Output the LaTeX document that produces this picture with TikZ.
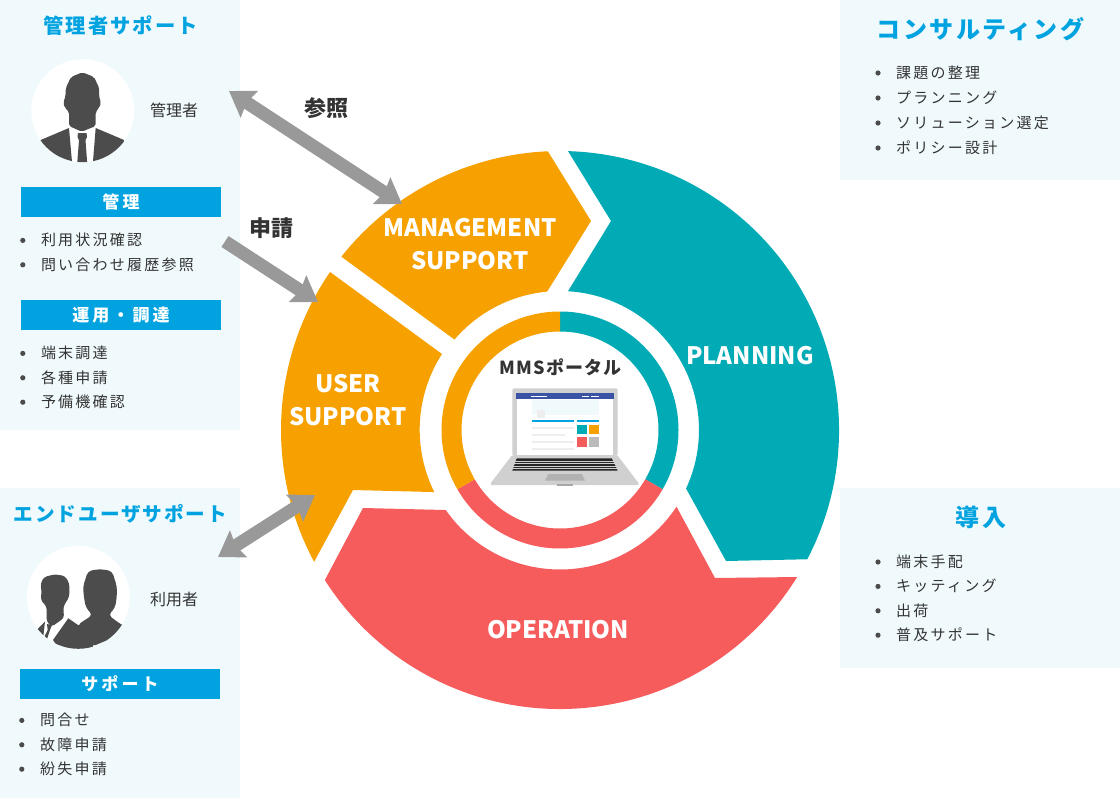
\documentclass[tikz,border=0pt]{standalone}
\usepackage{fontspec}
\usepackage{xcolor}
\usetikzlibrary{arrows.meta, positioning}
\setmainfont{Noto Sans CJK JP}
\newfontfamily\itemfont[LetterSpace=15]{Noto Sans CJK JP}
\newfontfamily\headfont[LetterSpace=10]{Noto Sans CJK JP}
\newfontfamily\barfont[LetterSpace=18]{Noto Sans CJK JP}
\newfontfamily\portalfont[LetterSpace=7]{Noto Sans CJK JP}
\definecolor{panelblue}{RGB}{240, 250, 253}
\definecolor{accentblue}{RGB}{0, 163, 224}
\definecolor{segteal}{RGB}{0, 171, 181}
\definecolor{segorange}{RGB}{246, 161, 0}
\definecolor{segred}{RGB}{247, 92, 93}
\definecolor{arrowgray}{RGB}{153, 153, 153}
\definecolor{figgray}{RGB}{76, 76, 76}
\definecolor{textdark}{RGB}{51, 51, 51}
\definecolor{lidgray}{RGB}{208, 208, 208}
\definecolor{linegray}{RGB}{238, 238, 238}
\definecolor{barnavy}{RGB}{58, 83, 164}
\tikzset{
    paneltitle/.style={text=accentblue, font=\fontsize{20.3}{24}\selectfont\headfont\bfseries, inner sep=0pt},
    barbox/.style={fill=accentblue, text=white, minimum width=200pt, minimum height=30pt, inner sep=0pt, font=\fontsize{17}{20}\selectfont\barfont\bfseries},
    listitem/.style={text=textdark, text width=160pt, text height=13pt, text depth=2pt, inner xsep=0pt, inner ysep=4.5pt, align=left, font=\fontsize{15}{18}\selectfont\itemfont},
    personlabel/.style={text=textdark, inner sep=0pt, font=\fontsize{16}{20}\selectfont},
    flowlabel/.style={text=textdark, inner sep=0pt, font=\fontsize{22}{26}\selectfont\bfseries},
    seglabel/.style={text=white, inner sep=0pt, align=center, font=\fontsize{24}{33}\selectfont\bfseries},
    flowarrow/.style={arrowgray, line width=13pt, -{Stealth[length=24pt, width=31pt, inset=3pt]}},
    twoarrow/.style={arrowgray, line width=13pt, {Stealth[length=24pt, width=31pt, inset=3pt]}-{Stealth[length=24pt, width=31pt, inset=3pt]}},
}

\begin{document}
\begin{tikzpicture}[x=1pt, y=-1pt]
    \useasboundingbox (0,0) rectangle (1120,798);

    % panels
    \fill[panelblue] (0,0) rectangle (240,430);
    \fill[panelblue] (0,488) rectangle (240,798);
    \fill[panelblue] (840,0) rectangle (1120,180);
    \fill[panelblue] (840,488) rectangle (1120,668);

    % cycle
    \begin{scope}[shift={(560,430)}]
        \fill[segteal] (-88.35:279) -- (51,-209) -- (-86.7:139) arc[start angle=-86.7, end angle=24.9, radius=139]
            -- (166,131) -- (27.6:279) arc[start angle=27.6, end angle=-88.35, radius=279] -- cycle;
        \fill[segorange] (-92.5:279) -- (31,-209) -- (-95.3:139) arc[start angle=-95.3, end angle=-139.4, radius=139]
            -- (-141.6:279) arc[start angle=-141.6, end angle=-92.5, radius=279] -- cycle;
        \fill[segorange] (-145.5:279) -- (-118,-76) arc[start angle=212.8, end angle=153.6, radius=140]
            -- (-207,60) -- (151.8:279) arc[start angle=151.8, end angle=214.5, radius=279] -- cycle;
        \fill[segred] (147.45:279) -- (-197,78) -- (145:139.5) arc[start angle=145, end angle=33.35, radius=139.5]
            -- (155,148) -- (31.8:279) arc[start angle=31.8, end angle=147.45, radius=279] -- cycle;
        % inner ring
        \fill[segteal] (-90:118.5) arc[start angle=-90, end angle=30, radius=118.5] -- (30:98.5) arc[start angle=30, end angle=-90, radius=98.5] -- cycle;
        \fill[segred] (30:118.5) arc[start angle=30, end angle=150, radius=118.5] -- (150:98.5) arc[start angle=150, end angle=30, radius=98.5] -- cycle;
        \fill[segorange] (150:118.5) arc[start angle=150, end angle=270, radius=118.5] -- (270:98.5) arc[start angle=270, end angle=150, radius=98.5] -- cycle;
    \end{scope}

    \node[seglabel] (planning) at (750,356) {PLANNING};
    \node[seglabel] (mgmt) at (470,244.5) {MANAGEMENT\\SUPPORT};
    \node[seglabel] (user) at (348,400.5) {USER\\SUPPORT};
    \node[seglabel] (operation) at (558,630) {OPERATION};
    \node[text=textdark, inner sep=0pt, font=\fontsize{18}{22}\selectfont\portalfont\bfseries] (portal) at (560.5,367) {MMSポータル};

    % laptop
    \fill[lidgray, rounded corners=2pt] (512.3,388.3) rectangle (617.7,456);
    \fill[white] (516.7,393) rectangle (613.3,455);
    \fill[barnavy] (516,393.3) rectangle (613.5,399.3);
    \fill[white] (531,395.8) rectangle (547,396.8);
    \fill[white] (582,395.8) rectangle (589,396.8);
    \fill[white] (591,395.8) rectangle (599,396.8);
    \fill[panelblue] (531.7,400) rectangle (599,415);
    \fill[linegray] (537.3,410) rectangle (545,418.3);
    \fill[accentblue] (531.7,420) rectangle (574,421.5);
    \fill[accentblue] (576.7,420) rectangle (599,421.5);
    \foreach \y/\xend in {427/574, 434/565, 441/574, 448.3/574}
        \fill[linegray] (531.7,\y) rectangle (\xend,\y+1.6);
    \fill[segteal] (577,424.7) rectangle (586.7,434);
    \fill[segorange] (589.3,424.7) rectangle (599,434);
    \fill[segred] (577,437.3) rectangle (586.7,446.7);
    \fill[lidgray!90!black] (589.3,437.3) rectangle (599,446.7);
    \fill[lidgray] (511.7,455.7) -- (617.7,455.7) -- (638.3,482.7) -- (638.3,485) -- (491,485) -- (491,482.7) -- cycle;
    \fill[figgray!50!black] (516.7,458.3) -- (611.7,458.3) -- (617.7,470.7) -- (512.3,470.7) -- cycle;
    \foreach \y in {461, 463.5, 466, 468.5}
        \draw[lidgray, line width=0.3pt] (512,\y) -- (618,\y);
    \fill[lidgray!85!black] (548.3,474) -- (581.7,474) -- (585,480.7) -- (545,480.7) -- cycle;
    \fill[lidgray!80!black] (556.7,483.5) rectangle (573.3,485.5);

    % administrator
    \fill[white] (82.7,110.7) circle (51.5);
    \begin{scope}
        \clip (82.7,110.7) circle (51.5);
        \fill[figgray, rounded corners=2pt] (82.3,72.3) -- (71,77) -- (65.7,88.3) -- (65.5,96) -- (63.3,103) -- (65,108) -- (69,111.7) -- (69,126)
            -- (81.7,131.7) -- (95.7,126) -- (95.7,111.7) -- (99,108) -- (101,103) -- (99,96) -- (99.3,88.3) -- (94,77) -- cycle;
        \fill[figgray] (69,128) -- (40.7,140) -- (40,170) -- (72.7,170) -- cycle;
        \fill[figgray] (95.7,128) -- (124,140) -- (125,170) -- (92.3,170) -- cycle;
        \fill[figgray] (78,133) -- (86.5,133) -- (87,137) -- (85.5,140) -- (87.7,170) -- (76.7,170) -- (79,140) -- (77.5,137) -- cycle;
    \end{scope}

    % end users
    \fill[white] (78.3,597.3) circle (51.5);
    \begin{scope}
        \clip (78.3,597.3) circle (51.5);
        \fill[figgray, rounded corners=3pt] (55,574.3) -- (44,577) -- (40.7,583.3) -- (41.5,593) -- (40.7,600) -- (46.7,606.7) -- (46.7,621.7) -- (51.7,626.7)
            -- (64,618) -- (63.3,606.7) -- (69.3,596.7) -- (69.3,583.3) -- (65,576) -- cycle;
        \fill[figgray] (68.3,618.3) -- (53,640) -- (60,650) -- (91.7,650) -- (100,625) -- (78,625) -- cycle;
        \fill[figgray] (36.7,630) -- (45,621.7) -- (43.3,636.7) -- cycle;
        \fill[figgray] (47,624) -- (52,625) -- (50,630) -- (47,639) -- (44.7,636) -- (47.7,630) -- cycle;
        \fill[figgray, rounded corners=4pt] (100,569) -- (88,571) -- (83,586.7) -- (84,598) -- (86,608) -- (92.7,615) -- (77.3,625) -- (91.7,646.7)
            -- (110,639) -- (135,630) -- (121.7,625) -- (108.3,615) -- (115,608) -- (116.7,598) -- (117,586.7) -- (112,571) -- cycle;
    \end{scope}

    % admin panel
    \node[paneltitle] (admintitle) at (120.5,26) {管理者サポート};
    \node[personlabel] (adminlabel) at (174,110) {管理者};
    \node[barbox] (mgmtbar) at (121,202) {管理};
    \node[listitem, below=11pt of mgmtbar] (mgmta) {利用状況確認};
    \node[listitem, below=0pt of mgmta] (mgmtb) {問い合わせ履歴参照};
    \node[barbox] (opsbar) at (121,315) {運用・調達};
    \node[listitem, below=11pt of opsbar] (opsa) {端末調達};
    \node[listitem, below=0pt of opsa] (opsb) {各種申請};
    \node[listitem, below=0pt of opsb] (opsc) {予備機確認};

    % end user panel
    \node[paneltitle, font=\fontsize{19.6}{24}\selectfont\headfont\bfseries] (usertitle) at (120.5,513.5) {エンドユーザサポート};
    \node[personlabel] (userlabel) at (174,599) {利用者};
    \node[barbox] (supbar) at (120,684) {サポート};
    \node[listitem, below=9pt of supbar] (supa) {問合せ};
    \node[listitem, below=0pt of supa] (supb) {故障申請};
    \node[listitem, below=0pt of supb] (supc) {紛失申請};

    % right panels
    \node[paneltitle, font=\fontsize{24}{28}\selectfont\headfont\bfseries] (constitle) at (980.5,29) {コンサルティング};
    \node[listitem, inner ysep=4.8pt, anchor=west] (consa) at (896,73) {課題の整理};
    \node[listitem, inner ysep=4.8pt, below=0pt of consa] (consb) {プランニング};
    \node[listitem, inner ysep=4.8pt, below=0pt of consb] (consc) {ソリューション選定};
    \node[listitem, inner ysep=4.8pt, below=0pt of consc] (consd) {ポリシー設計};
    \node[paneltitle, font=\fontsize{24}{28}\selectfont\headfont\bfseries] (deptitle) at (981,517) {導入};
    \node[listitem, anchor=west] (depa) at (896,562) {端末手配};
    \node[listitem, below=0pt of depa] (depb) {キッティング};
    \node[listitem, below=0pt of depb] (depc) {出荷};
    \node[listitem, below=0pt of depc] (depd) {普及サポート};

    \foreach \n in {mgmta, mgmtb, opsa, opsb, opsc, supa, supb, supc, consa, consb, consc, consd, depa, depb, depc, depd}
        \fill[figgray] ([xshift=-18pt]\n.west) circle (2.6);

    % arrows
    \coordinate (adminend) at (229,91);
    \coordinate (mgmtend) at (402,204);
    \coordinate (applyend) at (225,241.5);
    \coordinate (usertip) at (318,302);
    \coordinate (enduser) at (218,557);
    \coordinate (usersup) at (315,495);
    \draw[twoarrow] (adminend) -- (mgmtend);
    \draw[flowarrow] (applyend) -- (usertip);
    \draw[twoarrow] (enduser) -- (usersup);
    \node[flowlabel] (refer) at (326,108) {参照};
    \node[flowlabel] (apply) at (271,228) {申請};
\end{tikzpicture}
\end{document}
